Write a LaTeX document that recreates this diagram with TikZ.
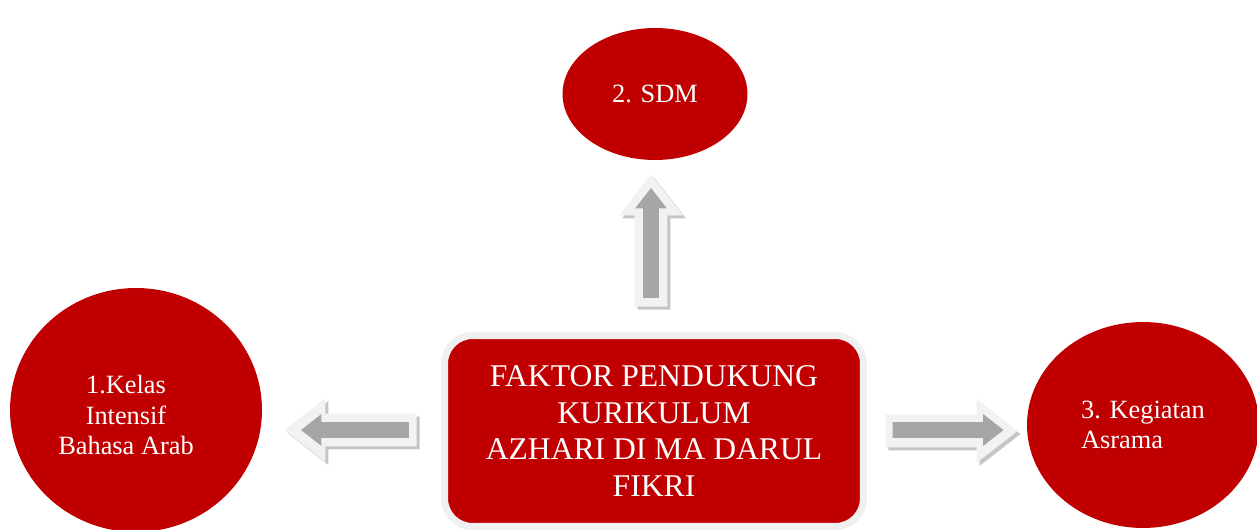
\documentclass[tikz,border=0pt]{standalone}
\usepackage{fontspec}
\setmainfont{Liberation Serif}
\usetikzlibrary{shapes.geometric, shapes.arrows, shadows, positioning}
\definecolor{dkred}{HTML}{C00000}
\definecolor{rimgray}{HTML}{F0F0F0}
\definecolor{arrlight}{HTML}{F2F2F2}
\definecolor{arrdark}{HTML}{A6A6A6}
\definecolor{shadegray}{HTML}{8C8C8C}

\begin{document}
\begin{tikzpicture}[
    x=0.02cm, y=-0.02cm,
    factor/.style={ellipse, fill=dkred, text=white, inner sep=0pt,
      font=\fontsize{15}{17.5}\selectfont},
    factortext/.style={text=white, align=center, inner sep=0pt,
      font=\fontsize{15}{17.5}\selectfont},
    core/.style={rectangle, rounded corners=0.56cm, fill=dkred, draw=rimgray,
      line width=4pt, text=white, align=center, inner sep=0pt,
      minimum width=8.38cm, minimum height=3.82cm,
      drop shadow={shadow xshift=1.2pt, shadow yshift=-1.2pt, opacity=0.25, fill=shadegray},
      font=\fontsize{18}{20.8}\selectfont},
    blockarrow/.style={single arrow, fill=arrlight, inner xsep=0pt,
      inner ysep=0.32cm, single arrow tip angle=76, minimum height=2.64cm,
      single arrow head extend=0.31cm,
      drop shadow={shadow xshift=1.7pt, shadow yshift=-1.7pt, opacity=0.5, fill=shadegray}},
    blockcore/.style={single arrow, fill=arrdark, inner xsep=0pt,
      inner ysep=0.15cm, single arrow tip angle=76,
      single arrow head extend=0.16cm},
  ]

  % Frame of the picture
  \useasboundingbox (0,0) rectangle (1257,530);

  % Central box
  \node[core] (faktor) at (654,431)
    {FAKTOR PENDUKUNG\\KURIKULUM\\AZHARI DI MA DARUL\\FIKRI};

  % Supporting factors
  \node[factor, minimum width=5.04cm, minimum height=4.88cm,
    label={[factortext, xshift=-0.2cm, yshift=-0.1cm]center:1.Kelas\\Intensif\\Bahasa Arab}]
    (kelas) at (136,410) {};
  \node[factor, minimum width=3.7cm, minimum height=2.64cm]
    (sdm) at (655,94) {2. SDM};
  \node[factor, minimum width=4.64cm, minimum height=4.12cm, align=left]
    (asrama) at (1143,425) {3. Kegiatan\\Asrama};

  % Block arrows from the box
  \node[blockarrow, rotate=90] (arrsdm) at (651,251) {};
  \node[blockcore, rotate=90, minimum height=2.2cm] at (651,248) {};

  \node[blockarrow, rotate=180] (arrkelas) at (361,430) {};
  \node[blockcore, rotate=180, minimum height=2.16cm] at (360,430) {};

  \node[blockarrow] (arrasrama) at (941,431) {};
  \node[blockcore, minimum height=2.22cm] at (943,430) {};

\end{tikzpicture}
\end{document}
